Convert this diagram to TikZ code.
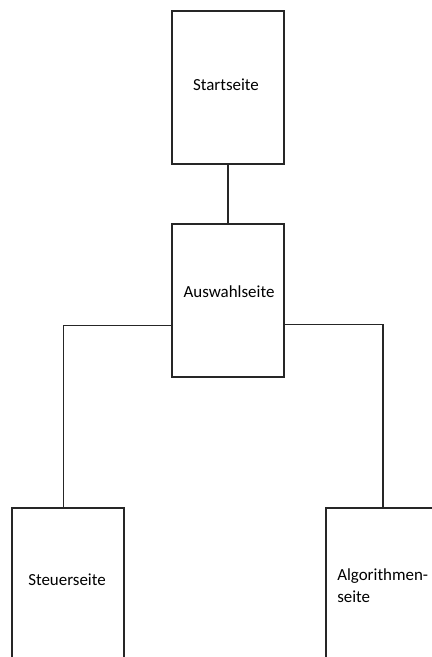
\documentclass[tikz,border=0pt]{standalone}
\usepackage{fontspec}
\setmainfont{Carlito}
\begin{document}
\begin{tikzpicture}[x=0.75pt,y=-0.75pt,
  pagebox/.style={draw=black!85,line width=0.8pt,rectangle,minimum width=84pt,inner sep=0pt},
  conn/.style={draw=black!85,line width=0.8pt},
  lbl/.style={font=\fontsize{12.7}{16.5}\selectfont,inner sep=0pt}]
\useasboundingbox (0,0) rectangle (432,657);
\clip (0,0) rectangle (432,657);
\node[pagebox,minimum height=114.75pt] (start) at (228,87.5) {};
\node[pagebox,minimum height=114.75pt] (ausw) at (228,300.5) {};
\node[pagebox,minimum height=117pt] (steuer) at (68,586) {};
\node[pagebox,minimum height=117pt] (algo) at (382,586) {};
\node[lbl] (tstart) at (226,85) {Startseite};
\node[lbl] (tausw) at (229,292) {Auswahlseite};
\node[lbl] (tsteuer) at (67,580) {Steuerseite};
\node[lbl,align=left,anchor=west] (talgo) at (337,586) {Algorithmen-\\seite};
\draw[conn] (start.south) -- (ausw.north);
\draw[conn] ([yshift=-18.6pt]ausw.west) -| ([xshift=-3.6pt]steuer.north);
\draw[conn] ([yshift=-18pt]ausw.east) -| ([xshift=0.75pt]algo.north);
\end{tikzpicture}
\end{document}
